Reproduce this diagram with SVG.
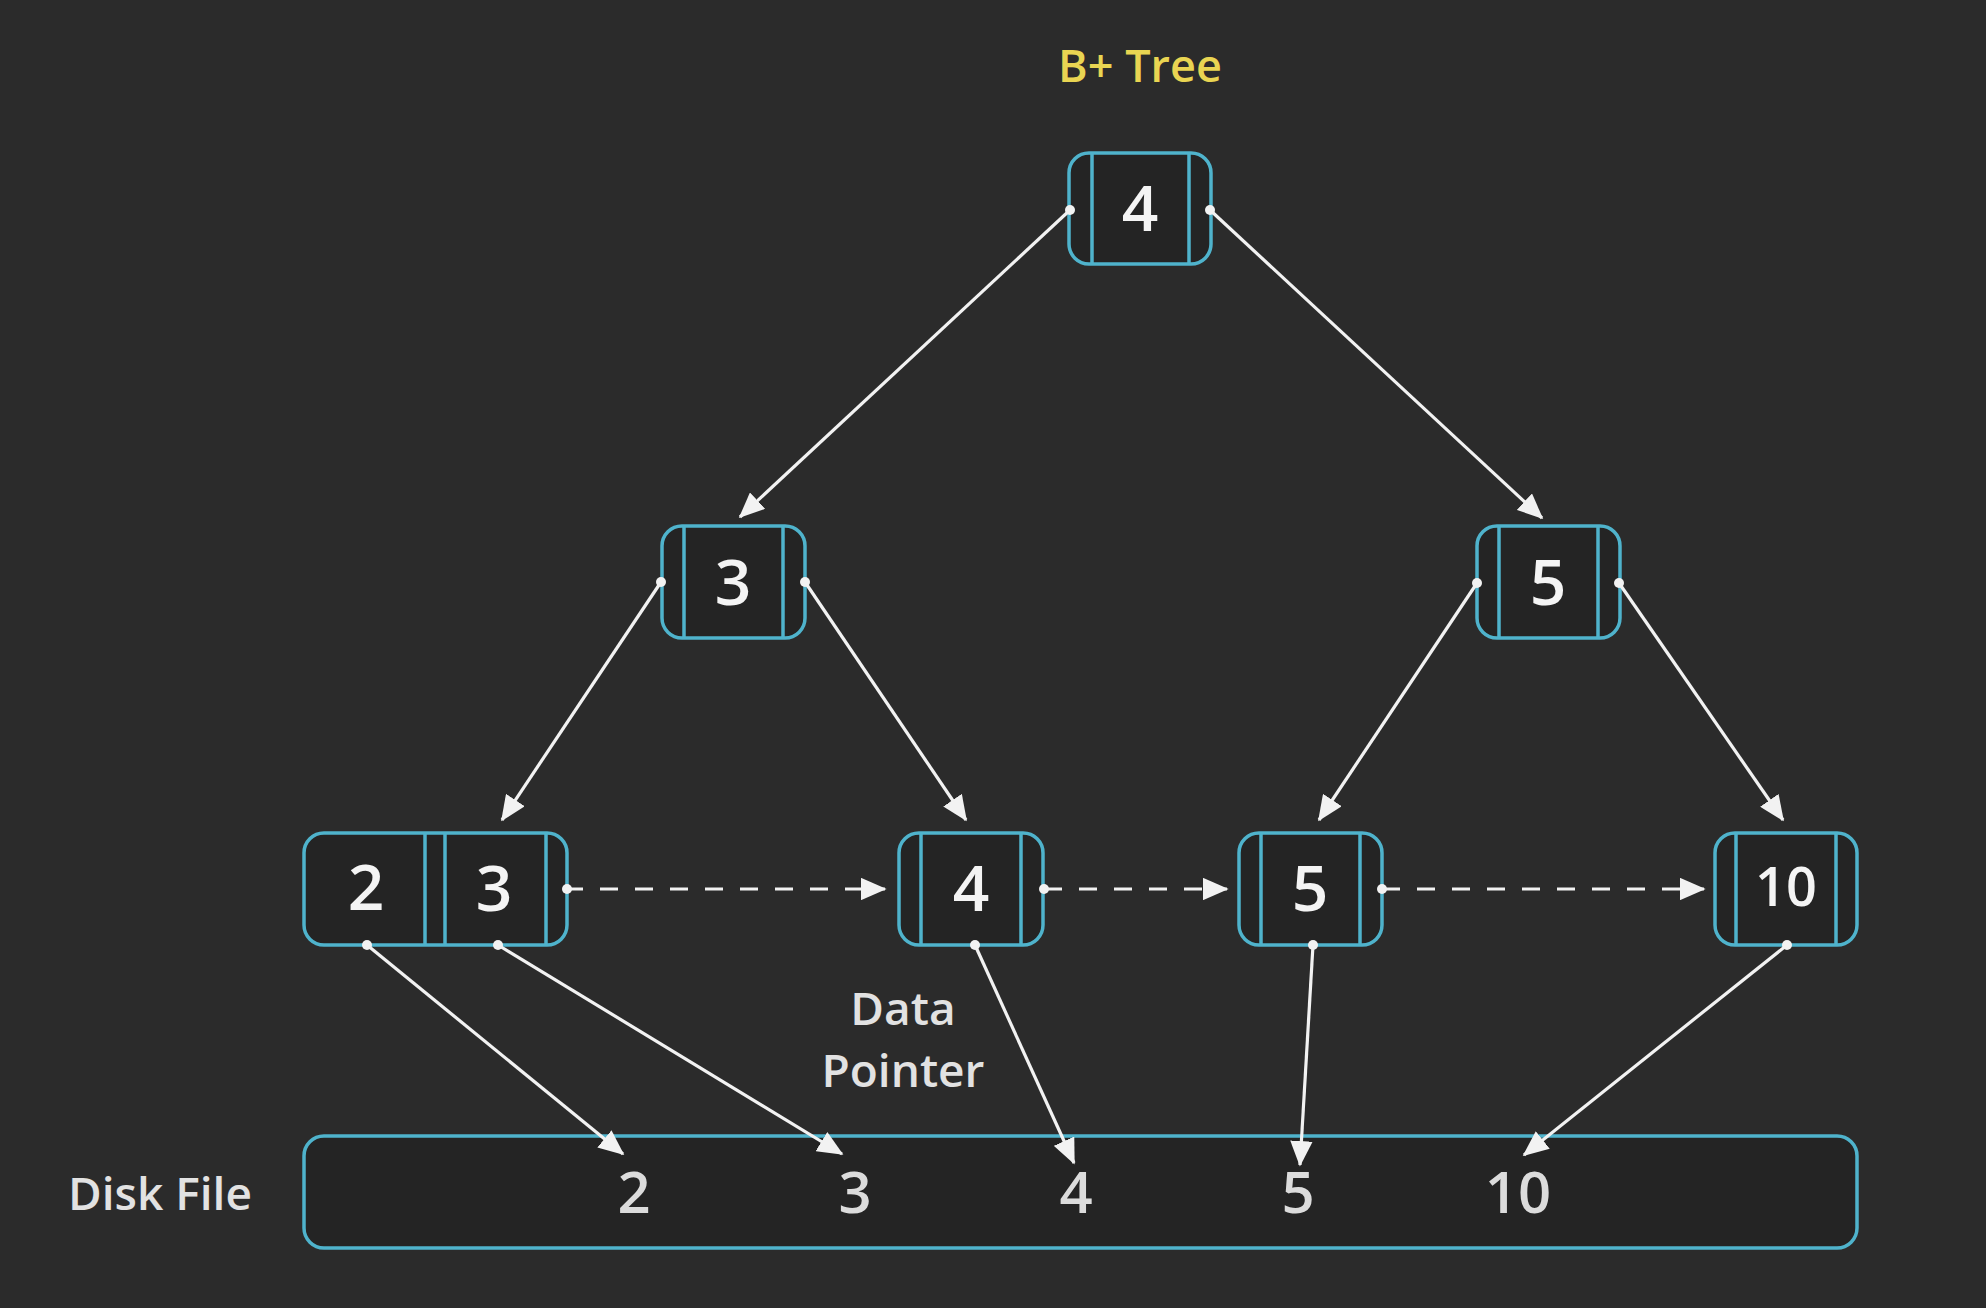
<svg xmlns="http://www.w3.org/2000/svg" width="1986" height="1308" viewBox="0 0 1986 1308">
<style>
.bg{fill:#2b2b2b}
.box{fill:#242424;stroke:#4fb3cc;stroke-width:3.5}
.div{stroke:#4fb3cc;stroke-width:3.5}
.key{font-family:"Open Sans","Liberation Sans",Arial,sans-serif;font-weight:600;font-size:64px;fill:#f4f4f4;text-anchor:middle}
.lbl{font-family:"Open Sans","Liberation Sans",Arial,sans-serif;font-weight:600;font-size:46px;fill:#e2e2e2;text-anchor:middle}
.title{font-family:"Open Sans","Liberation Sans",Arial,sans-serif;font-weight:600;font-size:45px;fill:#e9d552;text-anchor:middle}
.edge{stroke:#f2f2f2;stroke-width:3.2;fill:none;marker-end:url(#ah)}
.dash{stroke-dasharray:18 17}
.dot{fill:#f2f2f2}
</style>
<defs>
<marker id="ah" markerWidth="8" markerHeight="7" refX="7.5" refY="3.5" orient="auto" markerUnits="strokeWidth">
<path d="M0,0 L8,3.5 L0,7 Z" fill="#f2f2f2"/>
</marker>
</defs>
<rect class="bg" x="0" y="0" width="1986" height="1308"/>
<text class="title" x="1140" y="82">B+ Tree</text>

<g id="node-root">
<rect class="box" x="1069" y="153" width="142" height="111" rx="20"/>
<line class="div" x1="1092" y1="153" x2="1092" y2="264"/>
<line class="div" x1="1189" y1="153" x2="1189" y2="264"/>
<text class="key" x="1140" y="231">4</text>
</g>

<g id="node-3">
<rect class="box" x="662" y="526" width="143" height="112" rx="20"/>
<line class="div" x1="684" y1="526" x2="684" y2="638"/>
<line class="div" x1="783" y1="526" x2="783" y2="638"/>
<text class="key" x="733" y="605">3</text>
</g>

<g id="node-5">
<rect class="box" x="1477" y="526" width="143" height="112" rx="20"/>
<line class="div" x1="1499" y1="526" x2="1499" y2="638"/>
<line class="div" x1="1598" y1="526" x2="1598" y2="638"/>
<text class="key" x="1548" y="605">5</text>
</g>

<g id="leaf-2-3">
<rect class="box" x="304" y="833" width="263" height="112" rx="20"/>
<line class="div" x1="425" y1="833" x2="425" y2="945"/>
<line class="div" x1="445" y1="833" x2="445" y2="945"/>
<line class="div" x1="546" y1="833" x2="546" y2="945"/>
<text class="key" x="366" y="910">2</text>
<text class="key" x="494" y="911">3</text>
</g>

<g id="leaf-4">
<rect class="box" x="899" y="833" width="144" height="112" rx="20"/>
<line class="div" x1="921" y1="833" x2="921" y2="945"/>
<line class="div" x1="1021" y1="833" x2="1021" y2="945"/>
<text class="key" x="971" y="911">4</text>
</g>

<g id="leaf-5">
<rect class="box" x="1239" y="833" width="143" height="112" rx="20"/>
<line class="div" x1="1261" y1="833" x2="1261" y2="945"/>
<line class="div" x1="1360" y1="833" x2="1360" y2="945"/>
<text class="key" x="1310" y="911">5</text>
</g>

<g id="leaf-10">
<rect class="box" x="1715" y="833" width="142" height="112" rx="20"/>
<line class="div" x1="1736" y1="833" x2="1736" y2="945"/>
<line class="div" x1="1836" y1="833" x2="1836" y2="945"/>
<text class="key" x="1786" y="906" style="font-size:54px">10</text>
</g>

<g id="data-pointer-label">
<text class="lbl" x="903" y="1025">Data</text>
<text class="lbl" x="903" y="1087">Pointer</text>
</g>

<g id="disk-file">
<text class="lbl" x="160" y="1210">Disk File</text>
<rect class="box" x="304" y="1136" width="1553" height="112" rx="20"/>
<text class="key" x="634" y="1213" style="fill:#dcdcdc;font-size:58px">2</text>
<text class="key" x="855" y="1213" style="fill:#dcdcdc;font-size:58px">3</text>
<text class="key" x="1076" y="1213" style="fill:#dcdcdc;font-size:58px">4</text>
<text class="key" x="1298" y="1213" style="fill:#dcdcdc;font-size:58px">5</text>
<text class="key" x="1518" y="1213" style="fill:#dcdcdc;font-size:58px">10</text>
</g>

<g id="connectors">
<line class="edge" x1="1070" y1="210" x2="740" y2="517"/>
<line class="edge" x1="1210" y1="210" x2="1542" y2="518"/>
<line class="edge" x1="661" y1="582" x2="502" y2="820"/>
<line class="edge" x1="805" y1="582" x2="966" y2="820"/>
<line class="edge" x1="1477" y1="583" x2="1319" y2="820"/>
<line class="edge" x1="1619" y1="583" x2="1783" y2="820"/>
<line class="edge dash" x1="565" y1="889" x2="885" y2="889"/>
<line class="edge dash" x1="1044" y1="889" x2="1227" y2="889"/>
<line class="edge dash" x1="1382" y1="889" x2="1704" y2="889"/>
<line class="edge" x1="367" y1="945" x2="623" y2="1154"/>
<line class="edge" x1="498" y1="945" x2="842" y2="1154"/>
<line class="edge" x1="975" y1="945" x2="1074" y2="1163"/>
<line class="edge" x1="1313" y1="945" x2="1300" y2="1165"/>
<line class="edge" x1="1787" y1="945" x2="1524" y2="1155"/>
<circle class="dot" cx="1070" cy="210" r="5"/>
<circle class="dot" cx="1210" cy="210" r="5"/>
<circle class="dot" cx="661" cy="582" r="5"/>
<circle class="dot" cx="805" cy="582" r="5"/>
<circle class="dot" cx="1477" cy="583" r="5"/>
<circle class="dot" cx="1619" cy="583" r="5"/>
<circle class="dot" cx="567" cy="889" r="5"/>
<circle class="dot" cx="1044" cy="889" r="5"/>
<circle class="dot" cx="1382" cy="889" r="5"/>
<circle class="dot" cx="367" cy="945" r="5"/>
<circle class="dot" cx="498" cy="945" r="5"/>
<circle class="dot" cx="975" cy="945" r="5"/>
<circle class="dot" cx="1313" cy="945" r="5"/>
<circle class="dot" cx="1787" cy="945" r="5"/>
</g>
</svg>
